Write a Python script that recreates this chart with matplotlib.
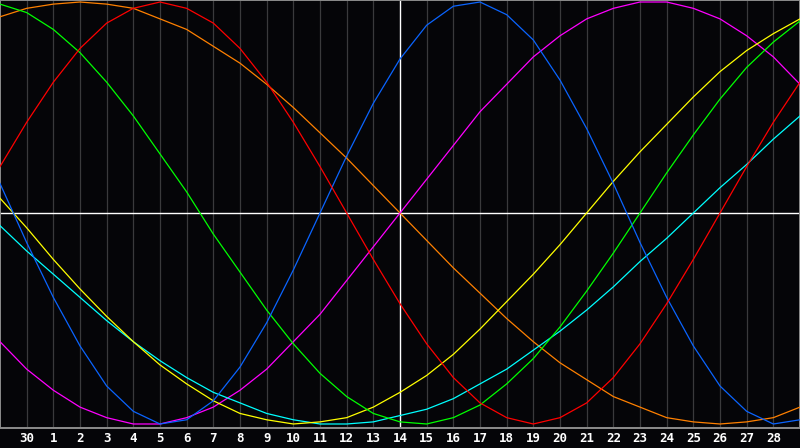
"""Biorhythm-style chart: seven cycles over one month, dark background."""

import matplotlib
matplotlib.use("Agg")
import matplotlib.pyplot as plt

# day slots across the chart (0 = left edge, 30 = right edge)
days = list(range(31))
tick_pos = list(range(1, 30))
tick_labels = ["30"] + [str(n) for n in range(1, 29)]
today = 15  # the "14" column, marked by the white line

# cycle values, one per day slot
red = [0.22, 0.43, 0.62, 0.78, 0.90, 0.97, 1.00, 0.97, 0.90, 0.78, 0.62,
       0.43, 0.22, 0.00, -0.22, -0.43, -0.62, -0.78, -0.90, -0.97, -1.00,
       -0.97, -0.90, -0.78, -0.62, -0.43, -0.22, 0.00, 0.22, 0.43, 0.62]
blue = [0.14, -0.14, -0.40, -0.63, -0.82, -0.94, -1.00, -0.98, -0.89, -0.73,
        -0.52, -0.27, 0.00, 0.27, 0.52, 0.73, 0.89, 0.98, 1.00, 0.94, 0.82,
        0.63, 0.40, 0.14, -0.14, -0.40, -0.63, -0.82, -0.94, -1.00, -0.98]
green = [0.99, 0.95, 0.87, 0.76, 0.62, 0.46, 0.28, 0.10, -0.10, -0.28, -0.46,
         -0.62, -0.76, -0.87, -0.95, -0.99, -1.00, -0.97, -0.91, -0.81, -0.69,
         -0.54, -0.37, -0.19, 0.00, 0.19, 0.37, 0.54, 0.69, 0.81, 0.91]
orange = [0.93, 0.97, 0.99, 1.00, 0.99, 0.97, 0.92, 0.87, 0.79, 0.71, 0.61,
          0.50, 0.38, 0.26, 0.13, 0.00, -0.13, -0.26, -0.38, -0.50, -0.61,
          -0.71, -0.79, -0.87, -0.92, -0.97, -0.99, -1.00, -0.99, -0.97, -0.92]
magenta = [-0.61, -0.74, -0.84, -0.92, -0.97, -1.00, -1.00, -0.97, -0.92,
           -0.84, -0.74, -0.61, -0.48, -0.32, -0.16, 0.00, 0.16, 0.32, 0.48,
           0.61, 0.74, 0.84, 0.92, 0.97, 1.00, 1.00, 0.97, 0.92, 0.84, 0.74,
           0.61]
yellow = [0.07, -0.07, -0.22, -0.36, -0.49, -0.61, -0.72, -0.81, -0.89,
          -0.95, -0.98, -1.00, -0.99, -0.97, -0.92, -0.85, -0.77, -0.67,
          -0.55, -0.42, -0.29, -0.15, 0.00, 0.15, 0.29, 0.42, 0.55, 0.67,
          0.77, 0.85, 0.92]
cyan = [-0.06, -0.18, -0.29, -0.40, -0.51, -0.61, -0.70, -0.78, -0.85, -0.90,
        -0.95, -0.98, -1.00, -1.00, -0.99, -0.96, -0.93, -0.88, -0.81, -0.74,
        -0.65, -0.56, -0.46, -0.35, -0.23, -0.12, 0.00, 0.12, 0.23, 0.35, 0.46]

SERIES = [
    (orange, "#ff8000"),
    (magenta, "#ff00ff"),
    (cyan, "#00ffff"),
    (yellow, "#ffff00"),
    (green, "#00ff00"),
    (blue, "#0a64ff"),
    (red, "#ff0000"),
]

BG = "#050508"

fig = plt.figure(figsize=(8.0, 4.48), dpi=100, facecolor=BG)
ax = fig.add_axes([0, 20 / 448, 1, 428 / 448])
ax.set_facecolor(BG)

# day grid
for d in tick_pos:
    if d != today:
        ax.axvline(d, color="#3a3a3c", lw=0.9, zorder=1)
ax.axvline(today, color="#ffffff", lw=1.0, zorder=2)
ax.axhline(0, color="#ffffff", lw=1.0, zorder=2)

for vals, color in SERIES:
    ax.plot(days, vals, color=color, lw=0.9, zorder=3)

ax.set_xlim(0, 30)
ax.set_ylim(-1.019, 1.0095)
ax.set_yticks([])
ax.set_xticks(tick_pos, tick_labels)
ax.tick_params(axis="x", length=0, pad=3, colors="#ffffff", labelsize=9)
for lbl in ax.get_xticklabels():
    lbl.set_family("DejaVu Sans Mono")
    lbl.set_fontweight("bold")

for spine in ax.spines.values():
    spine.set_color("#8c8c8c")
    spine.set_linewidth(1.4)

fig.savefig("out.png", dpi=100, facecolor=BG)
